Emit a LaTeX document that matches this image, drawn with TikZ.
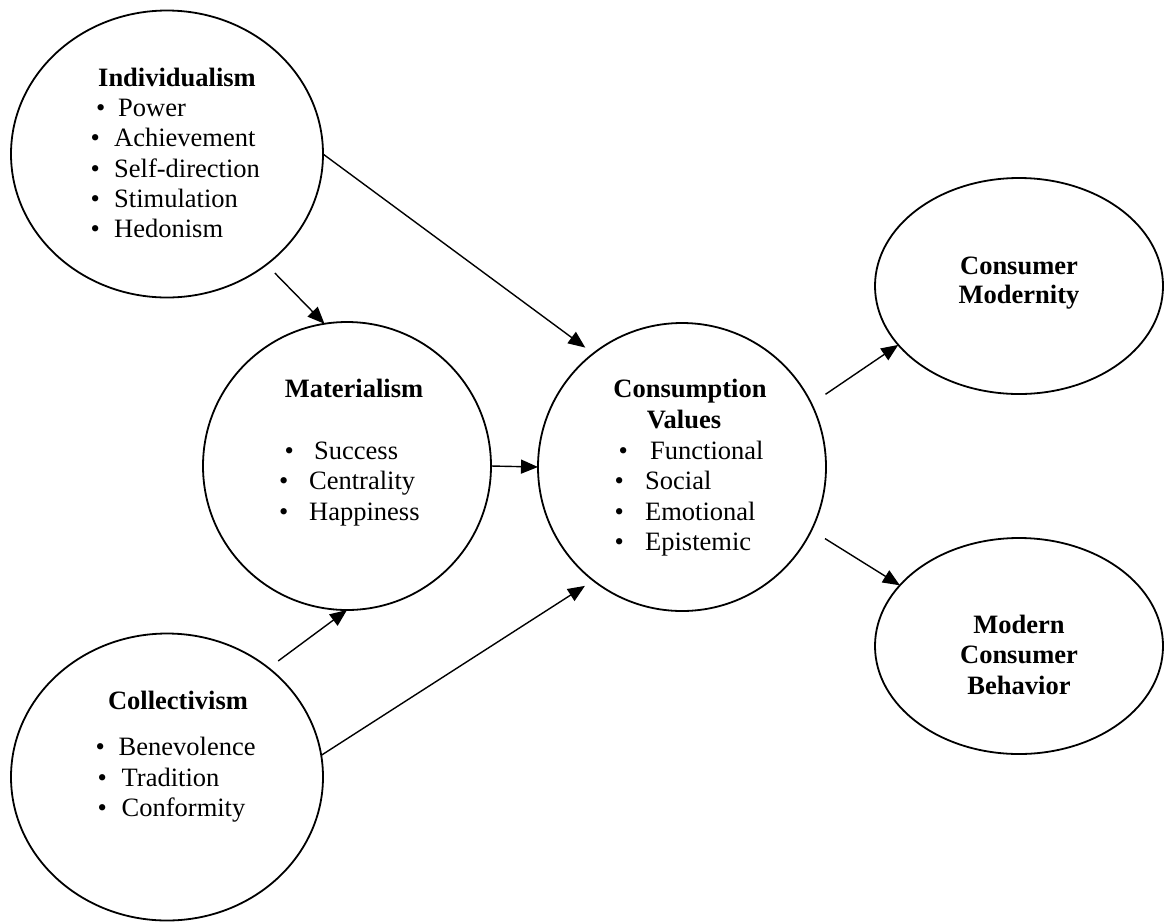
\documentclass[tikz,border=0pt]{standalone}
\usepackage{fontspec}
\setmainfont{Liberation Serif}
\usetikzlibrary{arrows.meta,shapes.geometric}
% bullet in a box of given width, followed by the item text
\newcommand\bulrow[2]{\makebox[#1][l]{\textbullet}#2}
\begin{document}
\begin{tikzpicture}[x=1pt,y=-1pt,
  oval/.style={draw, ellipse, line width=1.8pt, inner sep=0pt, outer sep=0pt},
  bigoval/.style={oval, minimum width=312pt, minimum height=287pt},
  roundoval/.style={oval, minimum width=288pt, minimum height=288pt},
  flatoval/.style={oval, minimum width=288pt, minimum height=216pt},
  lbl/.style={font=\bfseries\fontsize{26.5}{30}\selectfont, inner sep=0pt, anchor=base},
  itm/.style={font=\fontsize{26.5}{30}\selectfont, inner sep=0pt, anchor=base west},
  conn/.style={line width=1.4pt, -{Triangle[length=17pt,width=14pt]}}
]
\fill[white] (0,0) rectangle (1165,922);
\useasboundingbox (0,0) rectangle (1165,922);

% construct ovals
\node[bigoval]   (ind) at (167,154) {};
\node[roundoval] (mat) at (347,466) {};
\node[roundoval] (cv)  at (682,467) {};
\node[flatoval]  (cm)  at (1019,286) {};
\node[flatoval]  (mcb) at (1019,646) {};
\node[bigoval]   (col) at (167,777) {};

% Individualism
\node[lbl] (indT) at (177,86) {Individualism};
\node[itm] (ind1) at (96,116)   {\bulrow{22pt}{Power}};
\node[itm] (ind2) at (90.5,146) {\bulrow{23.5pt}{Achievement}};
\node[itm] (ind3) at (90.5,177) {\bulrow{23.5pt}{Self-direction}};
\node[itm] (ind4) at (90.5,207) {\bulrow{23.5pt}{Stimulation}};
\node[itm] (ind5) at (90.5,237) {\bulrow{23.5pt}{Hedonism}};

% Materialism
\node[lbl] (matT) at (354,397) {Materialism};
\node[itm] (mat1) at (284.5,459) {\bulrow{29.5pt}{Success}};
\node[itm] (mat2) at (279,489)   {\bulrow{30pt}{Centrality}};
\node[itm] (mat3) at (279,520)   {\bulrow{30pt}{Happiness}};

% Consumption Values
\node[lbl] (cvT1) at (690,397) {Consumption};
\node[lbl] (cvT2) at (684,428) {Values};
\node[itm] (cv1) at (618.5,459) {\bulrow{31.5pt}{Functional}};
\node[itm] (cv2) at (614.5,489) {\bulrow{30.5pt}{Social}};
\node[itm] (cv3) at (614.5,520) {\bulrow{30.5pt}{Emotional}};
\node[itm] (cv4) at (614.5,550) {\bulrow{30.5pt}{Epistemic}};

% Consumer Modernity
\node[lbl] (cmT1) at (1019,274) {Consumer};
\node[lbl] (cmT2) at (1019,303) {Modernity};

% Modern Consumer Behavior
\node[lbl] (mcbT1) at (1019,633) {Modern};
\node[lbl] (mcbT2) at (1019,663) {Consumer};
\node[lbl] (mcbT3) at (1019,694) {Behavior};

% Collectivism
\node[lbl] (colT) at (178,709) {Collectivism};
\node[itm] (col1) at (95.5,755) {\bulrow{23pt}{Benevolence}};
\node[itm] (col2) at (97.5,786) {\bulrow{24pt}{Tradition}};
\node[itm] (col3) at (97.5,816) {\bulrow{24pt}{Conformity}};

% paths
\draw[conn, shorten <=12pt] (ind.-48) -- (mat.99.5);
\draw[conn, shorten >=10pt] (ind.0) -- (cv.128.5);
\draw[conn] (mat.0) -- (cv.180);
\draw[conn, shorten <=12pt] (col.47.8) -- (mat.-90.8);
\draw[conn, shorten >=10pt] (col.8) -- (cv.-128.7);
\draw[conn, shorten <=17pt] (cv.26.9) -- (cm.206.9);
\draw[conn, shorten <=16pt] (cv.-26.2) -- (mcb.153.4);
\end{tikzpicture}
\end{document}
